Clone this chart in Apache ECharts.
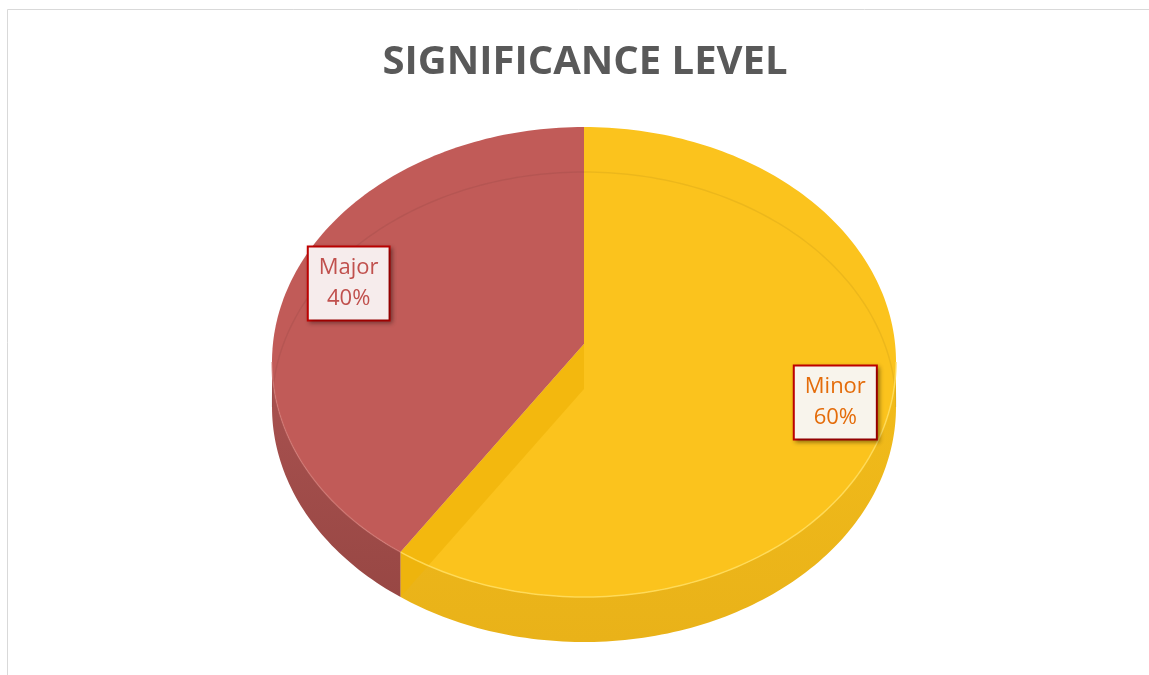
<!DOCTYPE html>
<html>
<head>
<meta charset="utf-8">
<title>Significance level</title>
<script src="https://cdn.jsdelivr.net/npm/echarts@6/dist/echarts.min.js"></script>
<style>
  html, body { margin: 0; padding: 0; background: #fff; }
  #main { width: 1149px; height: 675px; }
</style>
</head>
<body>
<div id="main"></div>
<script>
// slices, clockwise from 12 o'clock
const categories = ['Minor', 'Major'];
const values = [60, 40];

const topColors = ['#FBC31D', '#C15B58'];
const sideColors = ['#F2BC1A', '#A95250'];
const sideDark = ['#E9B219', '#984744'];
const faceColors = ['#F0B309', '#A94D4A'];
const rimColors = ['rgba(255,220,90,0.9)', 'rgba(210,120,115,0.6)'];
const labelColors = ['#E46C0A', '#C0504D'];
const labelFills = ['#F8F4EC', '#F6ECEC'];

const chart = echarts.init(document.getElementById('main'));

// tilted pie geometry
const cx = 584, cy = 362, rx = 312, ry = 235, depth = 45;
const apexY = cy - 18; // perspective makes the centre sit a bit higher
const total = values.reduce((a, b) => a + b, 0);

const cumulative = [];
values.reduce((acc, v, i) => { cumulative[i] = acc; return acc + v; }, 0);

function pt(a, dy) { // a: radians clockwise from 12 o'clock
  return [cx + rx * Math.sin(a), cy - ry * Math.cos(a) + (dy || 0)];
}
function arc(a0, a1, dy) {
  const n = Math.max(2, Math.ceil(Math.abs(a1 - a0) / 0.02));
  const pts = [];
  for (let i = 0; i <= n; i++) pts.push(pt(a0 + (a1 - a0) * i / n, dy));
  return pts;
}

function renderItem(params, api) {
  const i = params.dataIndex;
  const v = api.value(0), before = api.value(1);
  const a0 = before / total * 2 * Math.PI;
  const a1 = (before + v) / total * 2 * Math.PI;
  const children = [];

  // front wall (only the near half of the rim is visible)
  const w0 = Math.max(a0, Math.PI / 2), w1 = Math.min(a1, 3 * Math.PI / 2);
  if (w1 > w0) {
    children.push({
      type: 'polygon', z2: 1,
      shape: { points: arc(w0, w1, 0).concat(arc(w1, w0, depth)) },
      style: {
        fill: new echarts.graphic.LinearGradient(0, 0, 0, 1, [
          { offset: 0, color: sideColors[i] },
          { offset: 1, color: sideDark[i] }
        ])
      }
    });
    // light edge where top meets wall
    children.push({
      type: 'polyline', z2: 6, silent: true,
      shape: { points: arc(w0, w1, 0) },
      style: { stroke: rimColors[i], lineWidth: 1.5, fill: null }
    });
  }

  // top face
  children.push({
    type: 'polygon', z2: 3,
    shape: { points: [[cx, apexY]].concat(arc(a0, a1, 0)) },
    style: { fill: topColors[i] }
  });

  // far rim seen through the (slightly transparent) top
  const b0 = a0, b1 = Math.min(a1, Math.PI / 2);
  if (b1 > b0) {
    children.push({
      type: 'polyline', z2: 5, silent: true,
      shape: { points: arc(b0, b1, depth) },
      style: { stroke: 'rgba(0,0,0,0.06)', lineWidth: 1.5, fill: null }
    });
  }
  const c0 = Math.max(a0, 3 * Math.PI / 2), c1 = a1;
  if (c1 > c0) {
    children.push({
      type: 'polyline', z2: 5, silent: true,
      shape: { points: arc(c0, c1, depth) },
      style: { stroke: 'rgba(0,0,0,0.06)', lineWidth: 1.5, fill: null }
    });
  }

  // cut face at the slice end, seen through the top
  if (a1 < 2 * Math.PI - 1e-6) {
    const e = pt(a1, 0);
    children.push({
      type: 'polygon', z2: 4,
      shape: { points: [[cx, apexY], e, [e[0], e[1] + depth], [cx, apexY + depth]] },
      style: { fill: faceColors[i], opacity: 0.7 }
    });
  }

  // data label
  const m = (a0 + a1) / 2, k = 0.82;
  children.push({
    type: 'text', z2: 10,
    x: cx + 8 + k * rx * Math.sin(m),
    y: apexY - 1 - k * ry * Math.cos(m),
    style: {
      text: categories[i] + '\n' + Math.round(v / total * 100) + '%',
      fill: labelColors[i],
      font: '22px "Open Sans", sans-serif',
      lineHeight: 31,
      align: 'center',
      verticalAlign: 'middle',
      backgroundColor: labelFills[i],
      borderColor: '#C00000',
      borderWidth: 2,
      padding: [5, 10, 5, 10],
      shadowColor: 'rgba(0,0,0,0.3)',
      shadowBlur: 4,
      shadowOffsetX: 2,
      shadowOffsetY: 2
    }
  });

  return { type: 'group', children: children };
}

chart.setOption({
  animation: false,
  backgroundColor: '#fff',
  title: {
    text: 'SIGNIFICANCE LEVEL',
    left: 580,
    textAlign: 'center',
    top: 38,
    textStyle: {
      fontFamily: 'Open Sans',
      fontSize: 40,
      fontWeight: 'bold',
      color: '#595959'
    }
  },
  graphic: [{
    type: 'rect',
    shape: { x: 7.5, y: 9.5, width: 1300, height: 800 },
    style: { fill: null, stroke: '#D9D9D9', lineWidth: 1 }
  }],
  series: [{
    type: 'custom',
    coordinateSystem: 'none',
    renderItem: renderItem,
    data: values.map((v, i) => ({ name: categories[i], value: [v, cumulative[i]] }))
  }]
});
</script>
</body>
</html>
